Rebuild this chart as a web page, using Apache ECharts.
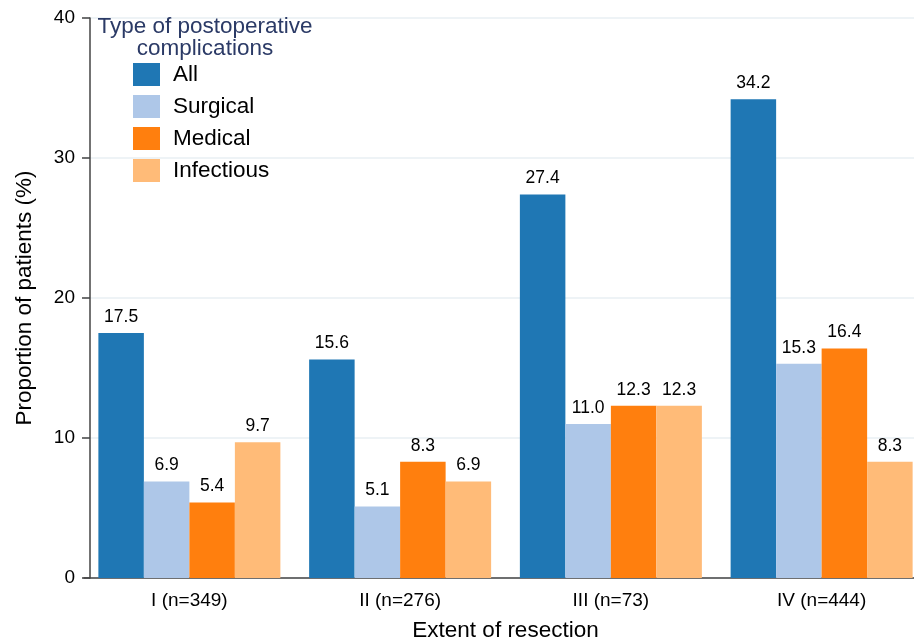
<!DOCTYPE html>
<html>
<head>
<meta charset="utf-8">
<script src="https://cdn.jsdelivr.net/npm/echarts@6/dist/echarts.min.js"></script>
<style>
  html, body { margin: 0; padding: 0; background: #fff; }
  #chart { width: 914px; height: 643px; }
</style>
</head>
<body>
<div id="chart"></div>
<script>
const categories = ['I (n=349)', 'II (n=276)', 'III (n=73)', 'IV (n=444)'];
const seriesNames = ['All', 'Surgical', 'Medical', 'Infectious'];
const allValues = [17.5, 15.6, 27.4, 34.2];
const surgicalValues = [6.9, 5.1, 11.0, 15.3];
const medicalValues = [5.4, 8.3, 12.3, 16.4];
const infectiousValues = [9.7, 6.9, 12.3, 8.3];
const yTicks = [0, 10, 20, 30, 40];

const colors = ['#1f77b4', '#aec7e8', '#ff7f0e', '#ffbb78'];
const font = 'Liberation Sans, Arial, Helvetica, sans-serif';

const chart = echarts.init(document.getElementById('chart'));

function makeSeries(name, values, i) {
    return {
        name: name,
        type: 'bar',
        data: values,
        barWidth: 45.5,
        barGap: '0%',
        itemStyle: { color: colors[i] },
        label: {
            show: true,
            position: 'top',
            distance: 7,
            color: '#000',
            fontFamily: font,
            fontSize: 17.5,
            formatter: p => p.value.toFixed(1)
        }
    };
}

const option = {
    animation: false,
    backgroundColor: '#fff',
    textStyle: { fontFamily: font },
    title: {
        text: 'Type of postoperative\ncomplications',
        left: 205,
        top: 16,
        padding: 0,
        textAlign: 'center',
        textStyle: {
            color: '#2b3a66',
            fontFamily: font,
            fontSize: 22.5,
            fontWeight: 'normal',
            lineHeight: 22
        }
    },
    legend: {
        orient: 'vertical',
        left: 133,
        top: 63,
        padding: 0,
        itemWidth: 27,
        itemHeight: 23,
        itemGap: 9,
        icon: 'rect',
        data: seriesNames,
        textStyle: { color: '#000', fontFamily: font, fontSize: 22.5, padding: [0, 0, 0, 8] }
    },
    grid: {
        left: 84,
        width: 843,
        top: 18,
        bottom: 65,
        containLabel: false,
        outerBoundsMode: 'none'
    },
    xAxis: {
        type: 'category',
        data: categories,
        name: 'Extent of resection',
        nameLocation: 'middle',
        nameGap: 41,
        nameTextStyle: { color: '#000', fontSize: 22.5, fontFamily: font },
        axisLine: { lineStyle: { color: '#444', width: 1.5 } },
        axisTick: { show: false },
        axisLabel: { color: '#000', fontSize: 19, fontFamily: font, margin: 13 }
    },
    yAxis: {
        type: 'value',
        min: 0,
        max: 40,
        interval: 10,
        offset: -6,
        name: 'Proportion of patients (%)',
        nameLocation: 'middle',
        nameGap: 54,
        nameTextStyle: { color: '#000', fontSize: 22.5, fontFamily: font },
        axisLine: { show: true, lineStyle: { color: '#444', width: 1.5 } },
        axisTick: { show: true, length: 8, lineStyle: { color: '#444', width: 1.5 } },
        axisLabel: {
            color: '#000', fontSize: 19, fontFamily: font, margin: 15,
            formatter: v => yTicks.includes(v) ? String(v) : ''
        },
        splitLine: { show: true, lineStyle: { color: '#e8eff3', width: 1.5 } }
    },
    series: [
        makeSeries(seriesNames[0], allValues, 0),
        makeSeries(seriesNames[1], surgicalValues, 1),
        makeSeries(seriesNames[2], medicalValues, 2),
        makeSeries(seriesNames[3], infectiousValues, 3)
    ]
};

chart.setOption(option);
</script>
</body>
</html>
